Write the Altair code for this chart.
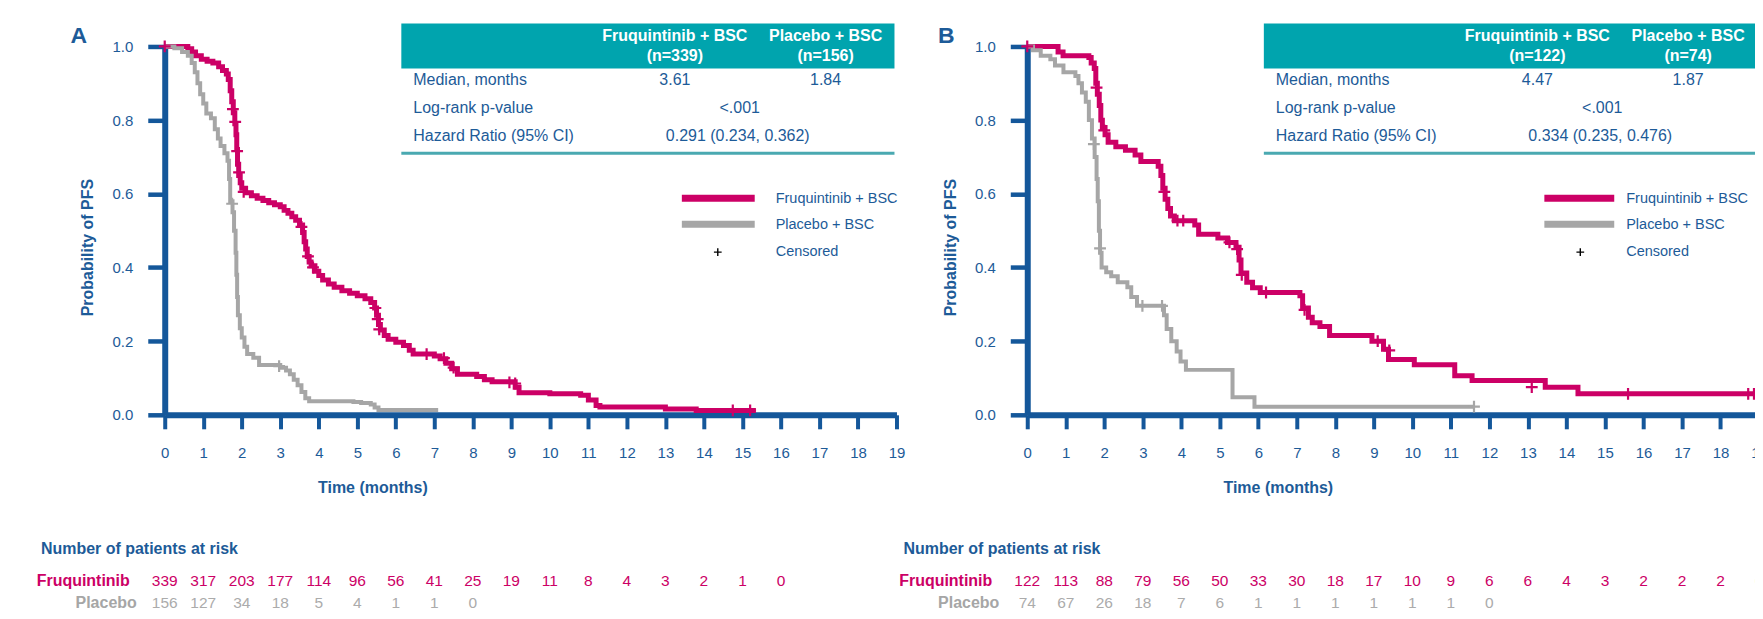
import altair as alt
import pandas as pd

# ---------------- data ----------------
MONTHS = list(range(20))
Y_TICKS = [0.0, 0.2, 0.4, 0.6, 0.8, 1.0]

# Panel A : Fruquintinib + BSC (step points: time, survival)
A_FRUQ_T = [0, 0.6, 0.7, 0.8, 0.95, 1.1, 1.25, 1.4, 1.5, 1.6, 1.65, 1.7, 1.74, 1.78, 1.82, 1.85, 1.87, 1.89,
            1.92, 1.96, 2.0, 2.1, 2.25, 2.4, 2.55, 2.7, 2.85, 3.0, 3.1, 3.2, 3.3, 3.4, 3.5, 3.58, 3.62, 3.66,
            3.7, 3.75, 3.8, 3.9, 4.0, 4.1, 4.25, 4.4, 4.6, 4.8, 5.0, 5.2, 5.35, 5.45, 5.5, 5.55, 5.6, 5.7, 5.8,
            6.0, 6.2, 6.35, 6.45, 7.0, 7.15, 7.3, 7.45, 7.6, 8.1, 8.3, 8.5, 9.1, 9.2, 10.0, 10.8, 11.0, 11.2,
            11.3, 12.9, 13.0, 13.8, 15.35]
A_FRUQ_S = [1.0, 0.994, 0.985, 0.975, 0.965, 0.96, 0.955, 0.945, 0.935, 0.925, 0.91, 0.88, 0.85, 0.82, 0.79,
            0.76, 0.72, 0.68, 0.65, 0.63, 0.615, 0.603, 0.595, 0.588, 0.582, 0.576, 0.57, 0.565, 0.555, 0.547,
            0.538, 0.528, 0.515, 0.495, 0.47, 0.45, 0.43, 0.415, 0.405, 0.39, 0.378, 0.366, 0.355, 0.346, 0.337,
            0.33, 0.323, 0.315, 0.305, 0.29, 0.27, 0.245, 0.23, 0.215, 0.205, 0.197, 0.188, 0.175, 0.165, 0.16,
            0.152, 0.14, 0.125, 0.11, 0.104, 0.095, 0.09, 0.075, 0.06, 0.057, 0.053, 0.04, 0.025, 0.021, 0.021,
            0.016, 0.012, 0.012]
A_FRUQ_CT = [0.0, 1.77, 1.83, 1.88, 1.93, 2.05, 3.55, 3.72, 3.85, 5.47, 5.53, 5.57, 6.8, 7.25, 7.5, 8.95, 9.1,
             14.75, 15.2]
A_FRUQ_CS = [1.0, 0.83, 0.795, 0.716, 0.658, 0.605, 0.51, 0.43, 0.40, 0.29, 0.26, 0.232, 0.165, 0.154, 0.128,
             0.088, 0.085, 0.012, 0.012]

# Panel A : Placebo + BSC
A_PLAC_T = [0, 0.25, 0.45, 0.6, 0.7, 0.78, 0.85, 0.92, 1.0, 1.08, 1.2, 1.3, 1.38, 1.45, 1.55, 1.63, 1.67, 1.7,
            1.76, 1.8, 1.84, 1.86, 1.88, 1.9, 1.95, 2.0, 2.07, 2.14, 2.3, 2.45, 3.0, 3.15, 3.25, 3.35, 3.45,
            3.55, 3.65, 3.75, 4.9, 5.1, 5.35, 5.45, 5.55, 7.1]
A_PLAC_S = [1.0, 0.995, 0.985, 0.975, 0.955, 0.93, 0.9, 0.87, 0.845, 0.818, 0.805, 0.775, 0.75, 0.73, 0.71,
            0.69, 0.64, 0.58, 0.55, 0.5, 0.44, 0.38, 0.32, 0.27, 0.235, 0.21, 0.185, 0.165, 0.155, 0.135, 0.128,
            0.12, 0.11, 0.095, 0.08, 0.062, 0.045, 0.037, 0.035, 0.032, 0.028, 0.02, 0.013, 0.013]
A_PLAC_CT = [1.75, 2.97]
A_PLAC_CS = [0.573, 0.132]

# Panel B : Fruquintinib + BSC
B_FRUQ_T = [0, 0.8, 0.93, 1.6, 1.66, 1.74, 1.78, 1.82, 1.87, 1.91, 1.95, 2.02, 2.1, 2.3, 2.55, 2.8, 2.95, 3.4,
            3.47, 3.52, 3.58, 3.65, 3.72, 3.82, 4.35, 4.45, 4.95, 5.2, 5.42, 5.5, 5.55, 5.7, 5.85, 6.05, 7.08,
            7.15, 7.3, 7.4, 7.6, 7.85, 8.95, 9.25, 9.38, 10.05, 11.1, 11.55, 13.45, 14.3, 19.0]
B_FRUQ_S = [1.0, 0.985, 0.975, 0.97, 0.955, 0.94, 0.9, 0.87, 0.84, 0.8, 0.78, 0.76, 0.74, 0.728, 0.718, 0.705,
            0.688, 0.675, 0.65, 0.615, 0.585, 0.56, 0.54, 0.527, 0.515, 0.49, 0.48, 0.468, 0.455, 0.42, 0.385,
            0.36, 0.345, 0.332, 0.323, 0.29, 0.265, 0.25, 0.24, 0.215, 0.2, 0.178, 0.15, 0.136, 0.106, 0.093,
            0.075, 0.057, 0.057]
B_FRUQ_CT = [0.0, 1.8, 2.0, 3.56, 3.9, 4.05, 5.25, 5.45, 5.57, 6.2, 7.2, 9.1, 9.4, 13.1, 15.6, 18.72, 18.87]
B_FRUQ_CS = [1.0, 0.888, 0.772, 0.605, 0.527, 0.527, 0.468, 0.45, 0.38, 0.332, 0.285, 0.2, 0.175, 0.075, 0.057,
             0.057, 0.057]

# Panel B : Placebo + BSC
B_PLAC_T = [0, 0.15, 0.35, 0.6, 0.72, 0.94, 1.25, 1.33, 1.42, 1.52, 1.6, 1.68, 1.75, 1.8, 1.83, 1.86, 1.89,
            1.93, 2.05, 2.18, 2.35, 2.6, 2.7, 2.85, 3.55, 3.62, 3.74, 3.88, 3.98, 4.12, 5.33, 5.9, 11.6]
B_PLAC_S = [1.0, 0.99, 0.975, 0.965, 0.948, 0.93, 0.92, 0.9, 0.875, 0.85, 0.8, 0.75, 0.7, 0.64, 0.58, 0.5,
            0.44, 0.4, 0.387, 0.376, 0.36, 0.346, 0.32, 0.296, 0.27, 0.233, 0.2, 0.172, 0.145, 0.122, 0.048,
            0.022, 0.022]
B_PLAC_CT = [1.73, 1.89, 2.99, 3.5, 11.6]
B_PLAC_CS = [0.735, 0.452, 0.296, 0.296, 0.022]

# Summary tables
A_TABLE = {"n": ["(n=339)", "(n=156)"], "median": ["3.61", "1.84"], "p": "<.001", "hr": "0.291 (0.234, 0.362)"}
B_TABLE = {"n": ["(n=122)", "(n=74)"], "median": ["4.47", "1.87"], "p": "<.001", "hr": "0.334 (0.235, 0.476)"}

# Number at risk
A_RISK_FRUQ = [339, 317, 203, 177, 114, 96, 56, 41, 25, 19, 11, 8, 4, 3, 2, 1, 0]
A_RISK_PLAC = [156, 127, 34, 18, 5, 4, 1, 1, 0]
B_RISK_FRUQ = [122, 113, 88, 79, 56, 50, 33, 30, 18, 17, 10, 9, 6, 6, 4, 3, 2, 2, 2, 0]
B_RISK_PLAC = [74, 67, 26, 18, 7, 6, 1, 1, 1, 1, 1, 1, 0]

ARMS = ["Fruquintinib + BSC", "Placebo + BSC", "Censored"]
ROW_LABELS = ["Median, months", "Log-rank p-value", "Hazard Ratio (95% CI)"]

# ---------------- style ----------------
BLUE = "#14579a"
TXT_BLUE = "#1d5b98"
MAGENTA = "#cc0066"
GRAY = "#a6a6a6"
TEAL = "#00a4ae"
TEAL_LINE = "#4aa9b1"
FONT = "Liberation Sans"
W, H = 733, 369
CROSS = "M-1,0H1M0,-1V1"

one = pd.DataFrame({"a": [0]})


def txt(s, x, y, size=16, color=TXT_BLUE, bold=False, align="center"):
    return alt.Chart(one).mark_text(
        text=s, font=FONT, fontSize=size, color=color, fontWeight="bold" if bold else "normal",
        align=align, baseline="middle"
    ).encode(x=alt.value(x), y=alt.value(y))


def panel(letter, fruq, plac, table, risk_f, risk_p, title_x, leg_x, leg_x2, letter_x):
    xs = alt.Scale(domain=[0, 19], nice=False, zero=False)
    ys = alt.Scale(domain=[0, 1], nice=False)
    xaxis = alt.Axis(values=MONTHS, title="Time (months)", titleX=title_x, titleY=73, titleBaseline="middle",
                     titleAlign="center", titleFont=FONT, titleFontSize=16, titleFontWeight="bold",
                     titleColor=TXT_BLUE, labelFont=FONT, labelFontSize=15, labelColor=TXT_BLUE,
                     labelPadding=24, labelBaseline="middle", labelFlush=False, labelOverlap=False,
                     domainColor=BLUE, domainWidth=6, tickColor=BLUE, tickWidth=4, tickSize=14, grid=False)
    yaxis = alt.Axis(values=Y_TICKS, format=".1f", title="Probability of PFS", titleX=-77, titleY=201,
                     titleBaseline="middle", titleAlign="center", titleAngle=-90, titleFont=FONT,
                     titleFontSize=16, titleFontWeight="bold", titleColor=TXT_BLUE, labelFont=FONT,
                     labelFontSize=15, labelColor=TXT_BLUE, labelPadding=15, domainColor=BLUE, domainWidth=6,
                     tickColor=BLUE, tickWidth=4.5, tickSize=17, grid=False)
    X = alt.X("t:Q", scale=xs, axis=xaxis)
    Y = alt.Y("s:Q", scale=ys, axis=yaxis)

    layers = []
    for (t, s, ct, cs), col, sw in [(fruq, MAGENTA, 5), (plac, GRAY, 4)]:
        layers.append(alt.Chart(pd.DataFrame({"t": t, "s": s})).mark_line(
            interpolate="step-after", color=col, strokeWidth=sw, clip=False).encode(x=X, y=Y))
    for (t, s, ct, cs), col in [(plac, GRAY), (fruq, MAGENTA)]:
        layers.append(alt.Chart(pd.DataFrame({"t": ct, "s": cs})).mark_point(
            shape=CROSS, size=140, filled=False, stroke=col, strokeWidth=2.2, opacity=1).encode(x=X, y=Y))

    # letter
    layers.append(txt(letter, letter_x, -10, size=23, color=TXT_BLUE, bold=True))
    # summary table
    layers.append(alt.Chart(one).mark_rect(color=TEAL).encode(
        x=alt.value(237), x2=alt.value(731), y=alt.value(-23), y2=alt.value(22)))
    layers.append(alt.Chart(one).mark_rule(color=TEAL_LINE, strokeWidth=3).encode(
        x=alt.value(237), x2=alt.value(731), y=alt.value(107)))
    c1, c2 = 511, 662
    layers += [
        txt(ARMS[0], c1, -10, color="white", bold=True), txt(table["n"][0], c1, 10, color="white", bold=True),
        txt(ARMS[1], c2, -10, color="white", bold=True), txt(table["n"][1], c2, 10, color="white", bold=True),
        txt(ROW_LABELS[0], 249, 34, align="left"), txt(table["median"][0], c1, 34),
        txt(table["median"][1], c2, 34),
        txt(ROW_LABELS[1], 249, 62, align="left"), txt(table["p"], 576, 62),
        txt(ROW_LABELS[2], 249, 90, align="left"), txt(table["hr"], 574, 90),
    ]
    # legend
    layers.append(alt.Chart(one).mark_rule(color=MAGENTA, strokeWidth=7).encode(
        x=alt.value(518), x2=alt.value(leg_x2), y=alt.value(152)))
    layers.append(alt.Chart(one).mark_rule(color=GRAY, strokeWidth=7).encode(
        x=alt.value(518), x2=alt.value(leg_x2), y=alt.value(178)))
    layers.append(alt.Chart(one).mark_point(shape=CROSS, size=60, filled=False, stroke="black",
                                            strokeWidth=1.4, opacity=1).encode(
        x=alt.value(554), y=alt.value(206)))
    layers += [txt(ARMS[0], leg_x, 153, size=14.5, align="left"),
               txt(ARMS[1], leg_x, 179, size=14.5, align="left"),
               txt(ARMS[2], leg_x, 206, size=14.5, align="left")]
    # number at risk
    layers.append(txt("Number of patients at risk", -124, 503, bold=True, align="left"))
    layers.append(txt("Fruquintinib", -35, 535, color=MAGENTA, bold=True, align="right"))
    layers.append(txt("Placebo", -28, 558, color=GRAY, bold=True, align="right"))
    rf = pd.DataFrame({"t": MONTHS[:len(risk_f)], "n": risk_f})
    rp = pd.DataFrame({"t": MONTHS[:len(risk_p)], "n": risk_p})
    layers.append(alt.Chart(rf).mark_text(font=FONT, fontSize=15.5, color=MAGENTA, baseline="middle").encode(
        x=X, y=alt.value(535), text="n:Q"))
    layers.append(alt.Chart(rp).mark_text(font=FONT, fontSize=15.5, color="#ababab", baseline="middle").encode(
        x=X, y=alt.value(558), text="n:Q"))

    return alt.layer(*layers).properties(width=W, height=H)


pa = panel("A", (A_FRUQ_T, A_FRUQ_S, A_FRUQ_CT, A_FRUQ_CS), (A_PLAC_T, A_PLAC_S, A_PLAC_CT, A_PLAC_CS),
           A_TABLE, A_RISK_FRUQ, A_RISK_PLAC, 208, 612, 591, -86)
pb = panel("B", (B_FRUQ_T, B_FRUQ_S, B_FRUQ_CT, B_FRUQ_CS), (B_PLAC_T, B_PLAC_S, B_PLAC_CT, B_PLAC_CS),
           B_TABLE, B_RISK_FRUQ, B_RISK_PLAC, 251, 600, 588, -81)

chart = alt.hconcat(pa, pb, spacing=131, bounds="flush").properties(
    padding={"left": 28, "top": 15, "right": -14, "bottom": -2},
    background="white",
).configure_view(stroke=None)

chart.save("out.html", embed_options={"renderer": "svg", "actions": False})
